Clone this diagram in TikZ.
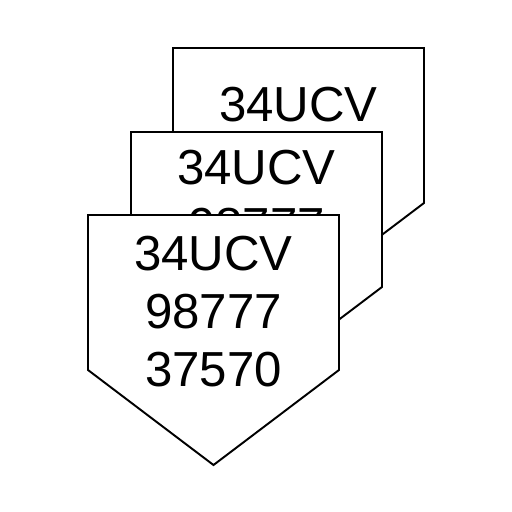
\documentclass[tikz,border=0pt]{standalone}
\usepackage{fontspec}
\setmainfont{Liberation Sans}
\begin{document}
\begin{tikzpicture}[x=0.02cm, y=-0.02cm,
    tagshape/.style={draw, fill=white, line width=1.1pt, line join=miter},
    tagtext/.style={font=\fontsize{28}{33}\selectfont, align=center, inner sep=0pt},
  ]
  \useasboundingbox (0,0) rectangle (512,512);
  % stacked tags, back one first
  \foreach \dx/\dy/\ty/\nm in {85/-167/330/backtag, 43/-83/309/midtag, 0/0/312/fronttag} {
    \begin{scope}[shift={(\dx,\dy)}]
      \draw[tagshape] (88,215) -- (339,215) -- (339,370) -- (213.5,465) -- (88,370) -- cycle;
      \node[tagtext] (\nm) at (213.5,\ty) {34UCV\\98777\\37570};
    \end{scope}
  }
\end{tikzpicture}
\end{document}
